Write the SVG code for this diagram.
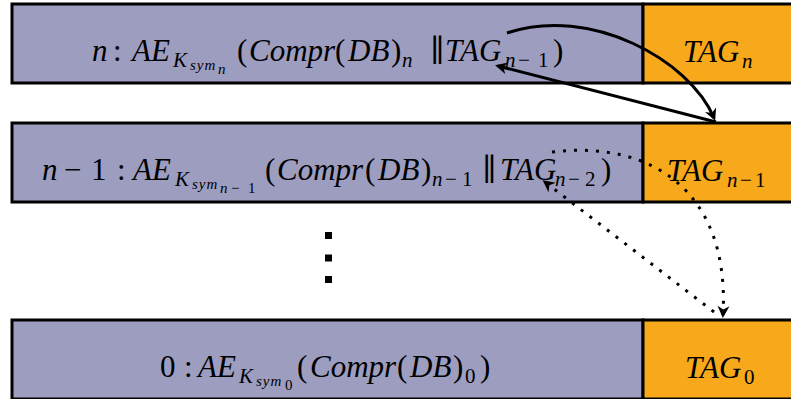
<svg xmlns="http://www.w3.org/2000/svg" width="791" height="399" viewBox="0 0 791 399">
<style>
.b{fill:#9d9dc0;stroke:#000;stroke-width:3}
.o{fill:#f7a81b;stroke:#000;stroke-width:3}
text{font-family:"Liberation Serif","DejaVu Serif",serif;font-style:italic;fill:#000;font-size:31px}
.s1{font-size:21px}
.s2{font-size:15px;letter-spacing:1px}
.u{font-style:normal}
.c{fill:none;stroke:#000;stroke-width:3}
.d{fill:none;stroke:#000;stroke-width:3;stroke-dasharray:3 8}
</style>
<defs>
<marker id="ah" markerUnits="userSpaceOnUse" markerWidth="20" markerHeight="20" viewBox="-12 -10 20 20" refX="0" refY="0" orient="auto">
<path d="M3,0 L-9,-6 L-5.5,0 L-9,6 Z" fill="#000"/>
</marker>
</defs>

<g id="row-n">
<rect class="b" x="12" y="4" width="631" height="79"/>
<rect class="o" x="643" y="4" width="160" height="79"/>
<text>
<tspan x="92" y="61">n</tspan><tspan class="u" x="113" y="61">:</tspan><tspan x="132" y="61">AE</tspan><tspan class="s1" x="173" y="67">K</tspan><tspan class="s2" x="190" y="70">sym</tspan><tspan class="s2" x="218" y="74">n</tspan><tspan class="u" x="237" y="61">(</tspan><tspan x="249" y="61">Compr</tspan><tspan class="u" x="335" y="61">(</tspan><tspan x="348" y="61">DB</tspan><tspan class="u" x="391" y="61">)</tspan><tspan class="s1" x="402" y="67">n</tspan><tspan class="u" x="430" y="61">∥</tspan><tspan x="445" y="61">TAG</tspan><tspan class="s1" x="505" y="67">n</tspan><tspan class="s1 u" x="518" y="67">−</tspan><tspan class="s1 u" x="538" y="67">1</tspan><tspan class="u" x="553" y="61">)</tspan>
</text>
<text><tspan x="683" y="62">TAG</tspan><tspan class="s1" x="742" y="68">n</tspan></text>
</g>

<g id="row-n-1">
<rect class="b" x="12" y="123" width="631" height="79"/>
<rect class="o" x="643" y="123" width="160" height="79"/>
<text>
<tspan x="42" y="180">n</tspan><tspan class="u" x="64" y="180">−</tspan><tspan class="u" x="91" y="180">1</tspan><tspan class="u" x="117" y="180">:</tspan><tspan x="133" y="180">AE</tspan><tspan class="s1" x="175" y="186">K</tspan><tspan class="s2" x="192" y="189">sym</tspan><tspan class="s2" x="220" y="193">n</tspan><tspan class="s2 u" x="231" y="193">−</tspan><tspan class="s2 u" x="248" y="193">1</tspan><tspan class="u" x="265" y="180">(</tspan><tspan x="277" y="180">Compr</tspan><tspan class="u" x="365" y="180">(</tspan><tspan x="378" y="180">DB</tspan><tspan class="u" x="421" y="180">)</tspan><tspan class="s1" x="432" y="186">n</tspan><tspan class="s1 u" x="445" y="186">−</tspan><tspan class="s1 u" x="462" y="186">1</tspan><tspan class="u" x="482" y="180">∥</tspan><tspan x="500" y="180">TAG</tspan><tspan class="s1" x="555" y="186">n</tspan><tspan class="s1 u" x="568" y="186">−</tspan><tspan class="s1 u" x="585" y="186">2</tspan><tspan class="u" x="601" y="180">)</tspan>
</text>
<text><tspan x="667" y="181">TAG</tspan><tspan class="s1" x="727" y="187">n</tspan><tspan class="s1 u" x="740" y="187">−</tspan><tspan class="s1 u" x="755" y="187">1</tspan></text>
</g>

<g id="ellipsis">
<rect x="325" y="232" width="7" height="7" fill="#000"/>
<rect x="325" y="254.5" width="7" height="7" fill="#000"/>
<rect x="325" y="276" width="7" height="7" fill="#000"/>
</g>

<g id="row-0">
<rect class="b" x="12" y="320" width="631" height="79"/>
<rect class="o" x="643" y="320" width="160" height="79"/>
<text>
<tspan class="u" x="160" y="377">0</tspan><tspan class="u" x="184" y="377">:</tspan><tspan x="198" y="377">AE</tspan><tspan class="s1" x="239" y="383">K</tspan><tspan class="s2" x="256" y="386">sym</tspan><tspan class="s2 u" x="285" y="390">0</tspan><tspan class="u" x="297" y="377">(</tspan><tspan x="310" y="377">Compr</tspan><tspan class="u" x="397" y="377">(</tspan><tspan x="410" y="377">DB</tspan><tspan class="u" x="453" y="377">)</tspan><tspan class="s1 u" x="465" y="383">0</tspan><tspan class="u" x="480" y="377">)</tspan>
</text>
<text><tspan x="685" y="378">TAG</tspan><tspan class="s1 u" x="744" y="384">0</tspan></text>
</g>

<g id="connectors">
<path class="c" d="M507,33 C590,5 690,60 714,118" marker-end="url(#ah)"/>
<path class="c" d="M716,122 L498,66" marker-end="url(#ah)"/>
<path class="d" d="M552,152 C650,140 730,190 723,315" marker-end="url(#ah)"/>
<path class="d" d="M714,312 L545,182" marker-end="url(#ah)"/>
</g>
</svg>
